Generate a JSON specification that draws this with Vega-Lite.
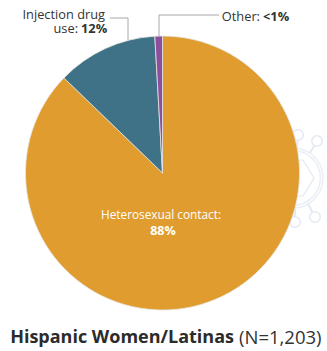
{
  "$schema": "https://vega.github.io/schema/vega-lite/v6.json",
  "width": 327,
  "height": 351,
  "padding": 0,
  "autosize": {"type": "none"},
  "background": "white",
  "config": {"view": {"stroke": null}},
  "datasets": {
    "routes": [
      {"route": "Heterosexual contact", "share": 88, "rank": 1, "cx": 162.5, "cy": 173},
      {"route": "Injection drug use", "share": 12, "rank": 2, "cx": 162.5, "cy": 173},
      {"route": "Other", "share": 0.9, "rank": 3, "cx": 162.5, "cy": 173}
    ],
    "leaders": [
      {"id": "a", "n": 1, "x": 110, "y": 18},
      {"id": "a", "n": 2, "x": 128, "y": 18},
      {"id": "a", "n": 3, "x": 128, "y": 40},
      {"id": "b", "n": 1, "x": 219, "y": 15},
      {"id": "b", "n": 2, "x": 159, "y": 15},
      {"id": "b", "n": 3, "x": 159, "y": 36}
    ],
    "virusRings": [
      {"x": 293, "y": 178, "s": 3600},
      {"x": 293, "y": 178, "s": 3000}
    ],
    "virusKnobs": [
      {"x": 298, "y": 135},
      {"x": 317, "y": 141},
      {"x": 295, "y": 222},
      {"x": 315, "y": 217}
    ],
    "virusSpikes": [
      {"id": "a", "x": 298, "y": 135}, {"id": "a", "x": 297, "y": 148},
      {"id": "b", "x": 317, "y": 141}, {"id": "b", "x": 310, "y": 153},
      {"id": "c", "x": 295, "y": 222}, {"id": "c", "x": 295, "y": 208},
      {"id": "d", "x": 315, "y": 217}, {"id": "d", "x": 308, "y": 204}
    ],
    "virusCore": [
      {"n": 1, "x": 284, "y": 160}, {"n": 2, "x": 303, "y": 160},
      {"n": 3, "x": 314, "y": 178}, {"n": 4, "x": 303, "y": 196},
      {"n": 5, "x": 284, "y": 196}
    ],
    "rightLabels": [
      {"text": "Injection drug", "x": 105, "y": 15},
      {"text": "use:", "x": 78, "y": 29},
      {"text": "Other:", "x": 260, "y": 17}
    ],
    "boldLabels": [
      {"text": "12%", "x": 81, "y": 29},
      {"text": "<1%", "x": 263, "y": 17}
    ]
  },
  "encoding": {
    "x": {"field": "x", "type": "quantitative", "scale": {"domain": [0, 327]}, "axis": null},
    "y": {"field": "y", "type": "quantitative", "scale": {"domain": [0, 351], "reverse": true}, "axis": null}
  },
  "layer": [
    {
      "data": {"name": "virusRings"},
      "mark": {"type": "point", "shape": "circle", "filled": false, "stroke": "#e3e9f2", "strokeWidth": 1.5},
      "encoding": {"size": {"field": "s", "type": "quantitative", "scale": null}}
    },
    {
      "data": {"name": "virusSpikes"},
      "mark": {"type": "line", "stroke": "#e3e9f2", "strokeWidth": 2},
      "encoding": {"detail": {"field": "id"}}
    },
    {
      "data": {"name": "virusKnobs"},
      "mark": {"type": "point", "shape": "circle", "filled": true, "fill": "white", "stroke": "#e3e9f2", "strokeWidth": 1.5, "opacity": 1, "size": 110}
    },
    {
      "data": {"name": "virusCore"},
      "mark": {"type": "line", "stroke": "#e3e9f2", "strokeWidth": 1.2},
      "encoding": {"order": {"field": "n"}}
    },
    {
      "data": {"name": "routes"},
      "mark": {"type": "arc", "outerRadius": 137, "stroke": "#e6e6e0", "strokeWidth": 0.8},
      "encoding": {
        "x": {"field": "cx", "type": "quantitative"},
        "y": {"field": "cy", "type": "quantitative"},
        "theta": {"field": "share", "type": "quantitative", "stack": true},
        "order": {"field": "rank"},
        "color": {
          "field": "route",
          "type": "nominal",
          "legend": null,
          "scale": {
            "domain": ["Heterosexual contact", "Injection drug use", "Other"],
            "range": ["#e09c2f", "#3f7287", "#8e4e9e"]
          }
        }
      }
    },
    {
      "data": {"name": "leaders"},
      "mark": {"type": "line", "stroke": "#a8a8a8", "strokeWidth": 1},
      "encoding": {"detail": {"field": "id"}, "order": {"field": "n"}}
    },
    {
      "data": {"name": "rightLabels"},
      "mark": {"type": "text", "font": "Open Sans", "fontSize": 12.8, "color": "#333333", "baseline": "middle", "align": "right"},
      "encoding": {"text": {"field": "text"}}
    },
    {
      "data": {"name": "boldLabels"},
      "mark": {"type": "text", "font": "Open Sans", "fontSize": 12.8, "fontWeight": "bold", "color": "#333333", "baseline": "middle", "align": "left"},
      "encoding": {"text": {"field": "text"}}
    },
    {
      "data": {"values": [{"text": "Heterosexual contact:", "x": 161, "y": 215}]},
      "mark": {"type": "text", "font": "Open Sans", "fontSize": 11.8, "color": "white", "baseline": "middle", "align": "center"},
      "encoding": {"text": {"field": "text"}}
    },
    {
      "data": {"values": [{"text": "88%", "x": 163, "y": 231}]},
      "mark": {"type": "text", "font": "Open Sans", "fontSize": 12.5, "fontWeight": "bold", "color": "white", "baseline": "middle", "align": "center"},
      "encoding": {"text": {"field": "text"}}
    },
    {
      "data": {"values": [{"text": "Hispanic Women/Latinas", "x": 234, "y": 338}]},
      "mark": {"type": "text", "font": "Open Sans", "fontSize": 18, "fontWeight": "bold", "color": "#2b2b2b", "baseline": "middle", "align": "right"},
      "encoding": {"text": {"field": "text"}}
    },
    {
      "data": {"values": [{"text": "(N=1,203)", "x": 239, "y": 338}]},
      "mark": {"type": "text", "font": "Open Sans", "fontSize": 18.5, "color": "#333333", "baseline": "middle", "align": "left"},
      "encoding": {"text": {"field": "text"}}
    }
  ]
}
